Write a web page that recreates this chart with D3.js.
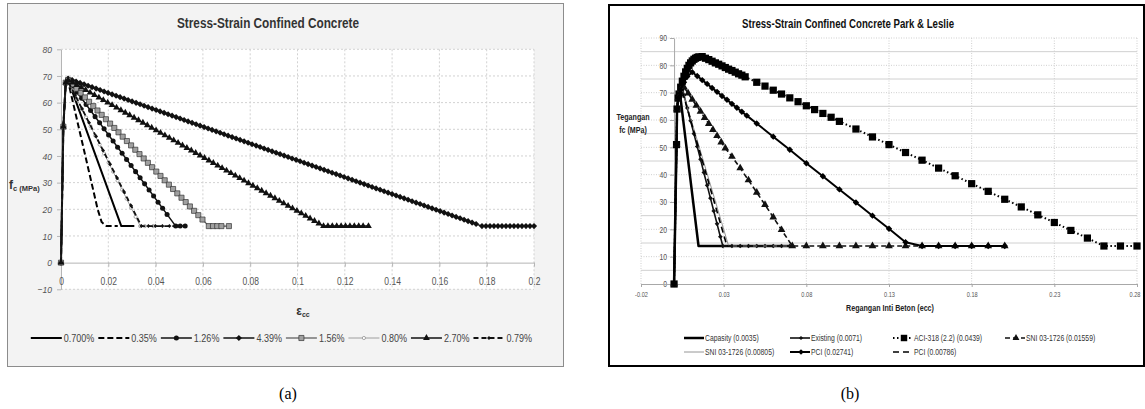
<!DOCTYPE html>
<html>
<head>
<meta charset="utf-8">
<script src="https://cdn.jsdelivr.net/npm/d3@7"></script>
<style>
  body { margin: 0; background: #fff; }
  svg { display: block; }
</style>
</head>
<body>
<svg width="1145" height="409"></svg>
<script>
const svg = d3.select("svg");
const arial = '"Liberation Sans", Arial, sans-serif';
const serif = '"Liberation Serif", "Times New Roman", serif';

// no narrow face is installed: squeeze Arial-metric text the way Arial Narrow / Calibri sit
function squeeze(sel, factor) {
  sel.each(function() {
    const w = this.getComputedTextLength();
    d3.select(this).attr("textLength", w * factor).attr("lengthAdjust", "spacingAndGlyphs");
  });
}

// ================= (a) Stress-Strain Confined Concrete =================
const aStrainTicks = [0, 0.02, 0.04, 0.06, 0.08, 0.1, 0.12, 0.14, 0.16, 0.18, 0.2];
const aStressTicks = [-10, 0, 10, 20, 30, 40, 50, 60, 70, 80];
const aNames = ["0.700%", "0.35%", "1.26%", "4.39%", "1.56%", "0.80%", "2.70%", "0.79%"];

// break points [strain, stress]: rise, peak, end of softening, end of residual
const a070 = [[0, 0], [0.001, 51], [0.002, 67.5], [0.003, 68.5], [0.0255, 13.7], [0.031, 13.7]];
const a035 = [[0, 0], [0.001, 51], [0.002, 67.5], [0.003, 68], [0.0155, 20], [0.0172, 15.2], [0.0192, 13.7], [0.024, 13.7]];
const a126 = [[0, 0], [0.001, 51], [0.002, 67.5], [0.003, 68.5], [0.0485, 13.7], [0.0525, 13.7]];
const a439 = [[0, 0], [0.001, 51], [0.002, 67.5], [0.003, 69], [0.178, 13.7], [0.2, 13.7]];
const a156 = [[0, 0], [0.001, 51], [0.002, 67.5], [0.003, 68.5], [0.0625, 13.7], [0.071, 13.7]];
const a080 = [[0, 0], [0.001, 51], [0.002, 67.5], [0.003, 68], [0.0335, 13.7], [0.039, 13.7]];
const a270 = [[0, 0], [0.001, 51], [0.002, 67.5], [0.003, 68.5], [0.111, 13.7], [0.13, 13.7]];
const a079 = [[0, 0], [0.001, 51], [0.002, 67.5], [0.003, 68], [0.034, 13.7], [0.049, 13.7]];

const diamond = d3.symbolDiamond2 || d3.symbolDiamond;

const aSeries = [
  { name: aNames[0], pts: a070, stroke: "#000", width: 2 },
  { name: aNames[1], pts: a035, stroke: "#000", width: 2, dash: "6,3" },
  { name: aNames[2], pts: a126, stroke: "#111", width: 1.5, sym: d3.symbolCircle, size: 20, fill: "#111", step: 4.5 },
  { name: aNames[3], pts: a439, stroke: "#111", width: 1.5, sym: diamond, size: 24, fill: "#111", step: 4 },
  { name: aNames[4], pts: a156, stroke: "#555", width: 1.2, sym: d3.symbolSquare, size: 26, fill: "#a0a0a0", mstroke: "#333", step: 4.2 },
  { name: aNames[5], pts: a080, stroke: "#888", width: 0.8, sym: d3.symbolCircle, size: 8, fill: "#fff", mstroke: "#888", step: 4.5 },
  { name: aNames[6], pts: a270, stroke: "#111", width: 1.5, sym: d3.symbolTriangle, size: 20, fill: "#111", step: 4.4 },
  { name: aNames[7], pts: a079, stroke: "#111", width: 1.8, dash: "5,3", sym: diamond, size: 10, fill: "#111", step: 7 }
];

const xA = d3.scaleLinear().domain([0, 0.2]).range([61, 534]);
const yA = d3.scaleLinear().domain([-10, 80]).range([289.3, 49.3]);

// frame
svg.append("rect").attr("x", 7.5).attr("y", 3.5).attr("width", 556).attr("height", 363)
  .attr("fill", "#f3f3f3").attr("stroke", "#8c8c8c");
svg.append("rect").attr("x", xA(0)).attr("y", yA(80))
  .attr("width", xA(0.2) - xA(0)).attr("height", yA(-10) - yA(80)).attr("fill", "#fff");

// grid
const gridA = svg.append("g");
gridA.selectAll(".gx").data(aStrainTicks.slice(1)).join("line").attr("class", "gx")
  .attr("x1", d => xA(d)).attr("x2", d => xA(d)).attr("y1", yA(80)).attr("y2", yA(-10));
gridA.selectAll(".gy").data(aStressTicks.filter(d => d !== 0)).join("line").attr("class", "gy")
  .attr("x1", xA(0)).attr("x2", xA(0.2)).attr("y1", d => yA(d)).attr("y2", d => yA(d));
gridA.selectAll("line").attr("stroke", "#d2d2d2").attr("stroke-dasharray", "2,2");

function styleAxis(g, line, size, italic, factor) {
  g.attr("font-family", null).attr("font-size", null);
  g.select(".domain").attr("stroke", line);
  g.selectAll(".tick line").attr("stroke", line);
  g.selectAll(".tick text").attr("fill", "#555")
    .style("font-family", arial).style("font-size", size + "px")
    .style("font-style", italic ? "italic" : null)
    .call(squeeze, factor);
}

svg.append("g").attr("transform", `translate(${xA(0)},0)`)
  .call(d3.axisLeft(yA).tickValues(aStressTicks).tickSize(4).tickSizeOuter(0).tickPadding(5))
  .call(g => styleAxis(g, "#b5b5b5", 9.5, true, 0.9));

svg.append("g").attr("transform", `translate(0,${yA(0)})`)
  .call(d3.axisBottom(xA).tickValues(aStrainTicks).tickSize(4).tickSizeOuter(0).tickPadding(11)
    .tickFormat(d => String(+d.toFixed(2))))
  .call(g => styleAxis(g, "#b5b5b5", 10, false, 0.85));

// Excel puts a marker on every row of the sheet; those rows cannot be read one by one,
// so after the peak the symbol is repeated along the drawn line every `step` px in x
function markerTrail(pts, x, y, step) {
  const px = pts.map(d => [x(d[0]), y(d[1])]);
  const out = px.slice(0, 4);
  for (let i = 4; i < px.length; i++) {
    const [x0, y0] = px[i - 1], [x1, y1] = px[i];
    const n = Math.floor((x1 - x0) / step);
    for (let k = 1; k < n; k++) {
      const t = k * step / (x1 - x0);
      out.push([x0 + t * (x1 - x0), y0 + t * (y1 - y0)]);
    }
    out.push([x1, y1]);
  }
  return out;
}

const lineA = d3.line().x(d => xA(d[0])).y(d => yA(d[1]));
const seriesA = svg.append("g");
aSeries.forEach(s => {
  const g = seriesA.append("g");
  g.append("path").attr("d", lineA(s.pts)).attr("fill", "none")
    .attr("stroke", s.stroke).attr("stroke-width", s.width)
    .attr("stroke-dasharray", s.dash || null).attr("stroke-linejoin", "round");
  if (s.sym) {
    g.selectAll("path.m").data(markerTrail(s.pts, xA, yA, s.step)).join("path").attr("class", "m")
      .attr("transform", d => `translate(${d[0]},${d[1]})`)
      .attr("d", d3.symbol(s.sym, s.size))
      .attr("fill", s.fill).attr("stroke", s.mstroke || "none").attr("stroke-width", 0.7);
  }
});

// titles
svg.append("text").attr("x", 268).attr("y", 28).attr("text-anchor", "middle")
  .style("font-family", arial).style("font-size", "14.5px").style("font-weight", "bold").attr("fill", "#333")
  .text("Stress-Strain Confined Concrete")
  .attr("textLength", 182).attr("lengthAdjust", "spacingAndGlyphs");

const yTitleA = svg.append("text").attr("x", 9).attr("y", 189)
  .style("font-family", arial).style("font-weight", "bold").attr("fill", "#333");
yTitleA.append("tspan").style("font-size", "12px").text("f");
yTitleA.append("tspan").style("font-size", "7.5px").attr("dy", 2).text("c (MPa)");

const xTitleA = svg.append("text").attr("x", 303).attr("y", 315).attr("text-anchor", "middle")
  .style("font-family", arial).style("font-weight", "bold").attr("fill", "#333");
xTitleA.append("tspan").style("font-size", "12px").text("ε");
xTitleA.append("tspan").style("font-size", "7px").attr("dy", 2).text("cc");

// legend (a), right end under the 0.2 tick
const legA = svg.append("g");
let lx = 0;
aSeries.forEach((s, i) => {
  const g = legA.append("g").attr("transform", `translate(${lx},0)`);
  g.append("line").attr("x1", 0).attr("x2", 31)
    .attr("stroke", s.stroke).attr("stroke-width", s.width).attr("stroke-dasharray", s.dash || null);
  if (s.sym) {
    g.append("path").attr("transform", "translate(15.5,0)").attr("d", d3.symbol(s.sym, s.size))
      .attr("fill", s.fill).attr("stroke", s.mstroke || "none").attr("stroke-width", 0.7);
  }
  const t = g.append("text").attr("x", 33).attr("dy", "0.35em")
    .style("font-family", arial).style("font-size", "10px").attr("fill", "#444").text(s.name)
    .call(squeeze, 0.9);
  lx += 33 + (+t.attr("textLength")) + (i < aSeries.length - 1 ? 4 : 0);
});
legA.attr("transform", `translate(${532 - lx},338)`);

// ================= (b) Stress-Strain Confined Concrete Park & Leslie =================
const bStrainTicks = [-0.02, 0.03, 0.08, 0.13, 0.18, 0.23, 0.28];
const bStressTicks = [0, 10, 20, 30, 40, 50, 60, 70, 80, 90];
const bStressMinor = [5, 15, 25, 35, 45, 55, 65, 75, 85];
const bNames = ["Capasity (0.0035)", "Existing (0.0071)", "ACI-318 (2.2) (0.0439)", "SNI 03-1726 (0.01559)",
  "SNI 03-1726 (0.00805)", "PCI (0.02741)", "PCI (0.00786)"];

const bCapasity = [[0, 0], [0.0015, 51], [0.0018, 64], [0.0025, 68], [0.0035, 70], [0.0148, 13.9], [0.07, 13.9]];
const bExisting = [[0, 0], [0.0015, 51], [0.0018, 64], [0.0025, 68], [0.004, 72.5], [0.006, 69.1], [0.008, 64.4],
  [0.010, 59.7], [0.012, 55.0], [0.014, 50.3], [0.016, 45.6], [0.018, 40.8], [0.020, 36.1], [0.022, 31.4],
  [0.024, 26.7], [0.026, 22.0], [0.028, 17.3], [0.0295, 13.9], [0.035, 13.9], [0.04, 13.9], [0.045, 13.9],
  [0.05, 13.9], [0.055, 13.9], [0.06, 13.9], [0.065, 13.9], [0.07, 13.9]];
const bAci = [[0, 0], [0.0015, 51], [0.0018, 64], [0.0025, 68], [0.003, 69.5], [0.004, 72], [0.005, 74.2],
  [0.006, 76], [0.007, 77.6], [0.008, 78.9], [0.009, 80], [0.010, 80.9], [0.011, 81.6], [0.012, 82.2],
  [0.013, 82.6], [0.014, 82.9], [0.015, 83.1], [0.017, 83.2], [0.019, 82.6], [0.021, 82.1], [0.023, 81.5],
  [0.025, 80.9], [0.027, 80.4], [0.029, 79.8], [0.031, 79.2], [0.033, 78.6], [0.035, 78.1], [0.037, 77.5],
  [0.039, 76.9], [0.041, 76.4], [0.043, 75.8], [0.05, 73.8], [0.055, 72.4], [0.06, 70.9], [0.065, 69.5],
  [0.07, 68.1], [0.075, 66.7], [0.08, 65.2], [0.085, 63.8], [0.09, 62.4], [0.095, 61.0], [0.10, 59.5],
  [0.11, 56.7], [0.12, 53.8], [0.13, 51.0], [0.14, 48.1], [0.15, 45.3], [0.16, 42.4], [0.17, 39.6],
  [0.18, 36.7], [0.19, 33.9], [0.20, 31.0], [0.21, 28.2], [0.22, 25.3], [0.23, 22.5], [0.24, 19.6],
  [0.25, 16.8], [0.26, 13.9], [0.27, 13.9], [0.28, 13.9]];
const bSni1559 = [[0, 0], [0.0015, 51], [0.0018, 64], [0.0025, 68], [0.004, 71], [0.006, 72], [0.0085, 69.8],
  [0.011, 67.5], [0.0135, 65.3], [0.016, 63.1], [0.0185, 60.8], [0.021, 58.6], [0.0235, 56.4], [0.026, 54.2],
  [0.0285, 51.9], [0.031, 49.7], [0.035, 46.6], [0.04, 42.4], [0.045, 38.0], [0.05, 33.5], [0.055, 29.0],
  [0.06, 24.4], [0.065, 19.8], [0.0715, 13.9], [0.08, 13.9], [0.09, 13.9], [0.10, 13.9], [0.11, 13.9],
  [0.12, 13.9], [0.13, 13.9], [0.14, 13.9], [0.15, 13.9], [0.16, 13.9], [0.17, 13.9], [0.18, 13.9],
  [0.19, 13.9], [0.20, 13.9]];
const bSni0805 = [[0, 0], [0.0015, 51], [0.0018, 64], [0.0025, 68], [0.0045, 72], [0.033, 13.9], [0.07, 13.9]];
const bPci2741 = [[0, 0], [0.0015, 51], [0.0018, 64], [0.0025, 68], [0.004, 71], [0.006, 73.8], [0.008, 75.9],
  [0.011, 77.5], [0.014, 76.1], [0.017, 74.6], [0.020, 73.2], [0.023, 71.7], [0.026, 70.3], [0.029, 68.8],
  [0.032, 67.4], [0.035, 65.9], [0.038, 64.5], [0.041, 63.0], [0.044, 61.6], [0.05, 58.7], [0.06, 53.9],
  [0.07, 49.1], [0.08, 44.2], [0.09, 39.4], [0.10, 34.6], [0.11, 29.8], [0.12, 25.0], [0.13, 20.2],
  [0.14, 15.3], [0.15, 13.9], [0.16, 13.9], [0.17, 13.9], [0.18, 13.9], [0.19, 13.9], [0.20, 13.9]];
const bPci0786 = [[0, 0], [0.0015, 51], [0.0018, 64], [0.0025, 68], [0.0045, 71.5], [0.032, 13.9], [0.07, 13.9]];

const bSeries = [
  { name: bNames[0], pts: bCapasity, stroke: "#000", width: 2.5 },
  { name: bNames[1], pts: bExisting, stroke: "#111", width: 1.6, sym: diamond, size: 14, fill: "#111" },
  { name: bNames[2], pts: bAci, stroke: "#000", width: 2, dash: "1.5,2.5", sym: d3.symbolSquare, size: 52, fill: "#000" },
  { name: bNames[3], pts: bSni1559, stroke: "#111", width: 1.6, dash: "5,3", sym: d3.symbolTriangle, size: 26, fill: "#111" },
  { name: bNames[4], pts: bSni0805, stroke: "#8a8a8a", width: 0.9 },
  { name: bNames[5], pts: bPci2741, stroke: "#000", width: 2, sym: diamond, size: 26, fill: "#000" },
  { name: bNames[6], pts: bPci0786, stroke: "#000", width: 1.6, dash: "6,4" }
];

const xB = d3.scaleLinear().domain([-0.02, 0.28]).range([641, 1137]);
const yB = d3.scaleLinear().domain([0, 90]).range([284, 38]);

svg.append("rect").attr("x", 609).attr("y", 5).attr("width", 535).attr("height", 361)
  .attr("fill", "#fff").attr("stroke", "#000").attr("stroke-width", 2);

const gridB = svg.append("g");
gridB.selectAll(".gx").data(bStrainTicks).join("line").attr("class", "gx")
  .attr("x1", d => xB(d)).attr("x2", d => xB(d)).attr("y1", yB(90)).attr("y2", yB(0))
  .attr("stroke", "#cfcfcf").attr("stroke-dasharray", "1,1.5");
gridB.selectAll(".gy").data(bStressTicks.slice(1)).join("line").attr("class", "gy")
  .attr("x1", xB(-0.02)).attr("x2", xB(0.28)).attr("y1", d => yB(d)).attr("y2", d => yB(d))
  .attr("stroke", "#cfcfcf").attr("stroke-dasharray", "1,1.5");
gridB.selectAll(".gm").data(bStressMinor).join("line").attr("class", "gm")
  .attr("x1", xB(-0.02)).attr("x2", xB(0.28)).attr("y1", d => yB(d)).attr("y2", d => yB(d))
  .attr("stroke", "#d0d0d0");

svg.append("g").attr("transform", `translate(${xB(0)},0)`)
  .call(d3.axisLeft(yB).tickValues(bStressTicks).tickSize(4).tickSizeOuter(0).tickPadding(3))
  .call(g => styleAxis(g, "#a8a8a8", 8.5, false, 0.8));

svg.append("g").attr("transform", `translate(0,${yB(0)})`)
  .call(d3.axisBottom(xB).tickValues(bStrainTicks).tickSize(3).tickSizeOuter(0).tickPadding(5)
    .tickFormat(d => d.toFixed(2)))
  .call(g => styleAxis(g, "#a8a8a8", 7.5, false, 0.75))
  // the last label sits against the frame: keep it inside
  .call(g => g.selectAll(".tick:last-of-type text").attr("text-anchor", "end").attr("x", 3));

const lineB = d3.line().x(d => xB(d[0])).y(d => yB(d[1]));
const seriesB = svg.append("g");
bSeries.forEach(s => {
  const g = seriesB.append("g");
  g.append("path").attr("d", lineB(s.pts)).attr("fill", "none")
    .attr("stroke", s.stroke).attr("stroke-width", s.width)
    .attr("stroke-dasharray", s.dash || null).attr("stroke-linejoin", "round");
  if (s.sym) {
    g.selectAll("path.m").data(s.pts).join("path").attr("class", "m")
      .attr("transform", d => `translate(${xB(d[0])},${yB(d[1])})`)
      .attr("d", d3.symbol(s.sym, s.size)).attr("fill", s.fill);
  }
});

svg.append("text").attr("x", 848).attr("y", 28).attr("text-anchor", "middle")
  .style("font-family", arial).style("font-size", "13px").style("font-weight", "bold").attr("fill", "#111")
  .text("Stress-Strain Confined Concrete Park & Leslie")
  .attr("textLength", 212).attr("lengthAdjust", "spacingAndGlyphs");

svg.append("text").attr("x", 633).attr("y", 120).attr("text-anchor", "middle")
  .style("font-family", arial).style("font-size", "9.5px").style("font-weight", "bold").attr("fill", "#222")
  .text("Tegangan").call(squeeze, 0.75);
svg.append("text").attr("x", 633).attr("y", 133).attr("text-anchor", "middle")
  .style("font-family", arial).style("font-size", "9.5px").style("font-weight", "bold").attr("fill", "#222")
  .text("fc (MPa)").call(squeeze, 0.75);
svg.append("text").attr("x", 890).attr("y", 311).attr("text-anchor", "middle")
  .style("font-family", arial).style("font-size", "9.5px").style("font-weight", "bold").attr("fill", "#222")
  .text("Regangan Inti Beton (ecc)").call(squeeze, 0.75);

// legend (b): two rows, four columns
const legCols = [684, 790, 893, 1005];
const legRows = [338, 352];
bSeries.forEach((s, i) => {
  const g = svg.append("g")
    .attr("transform", `translate(${legCols[i % 4]},${legRows[Math.floor(i / 4)]})`);
  g.append("line").attr("x1", 0).attr("x2", 20)
    .attr("stroke", s.stroke).attr("stroke-width", s.width).attr("stroke-dasharray", s.dash || null);
  if (s.sym) {
    g.append("path").attr("transform", "translate(11,0)").attr("d", d3.symbol(s.sym, s.size * 0.8)).attr("fill", s.fill);
  }
  g.append("text").attr("x", 21).attr("dy", "0.35em")
    .style("font-family", arial).style("font-size", "8.5px").attr("fill", "#333").text(s.name)
    .call(squeeze, 0.8);
});

// captions
svg.append("text").attr("x", 288).attr("y", 399).attr("text-anchor", "middle")
  .style("font-family", serif).style("font-size", "16px").text("(a)");
svg.append("text").attr("x", 850).attr("y", 399).attr("text-anchor", "middle")
  .style("font-family", serif).style("font-size", "16px").text("(b)");
</script>
</body>
</html>
